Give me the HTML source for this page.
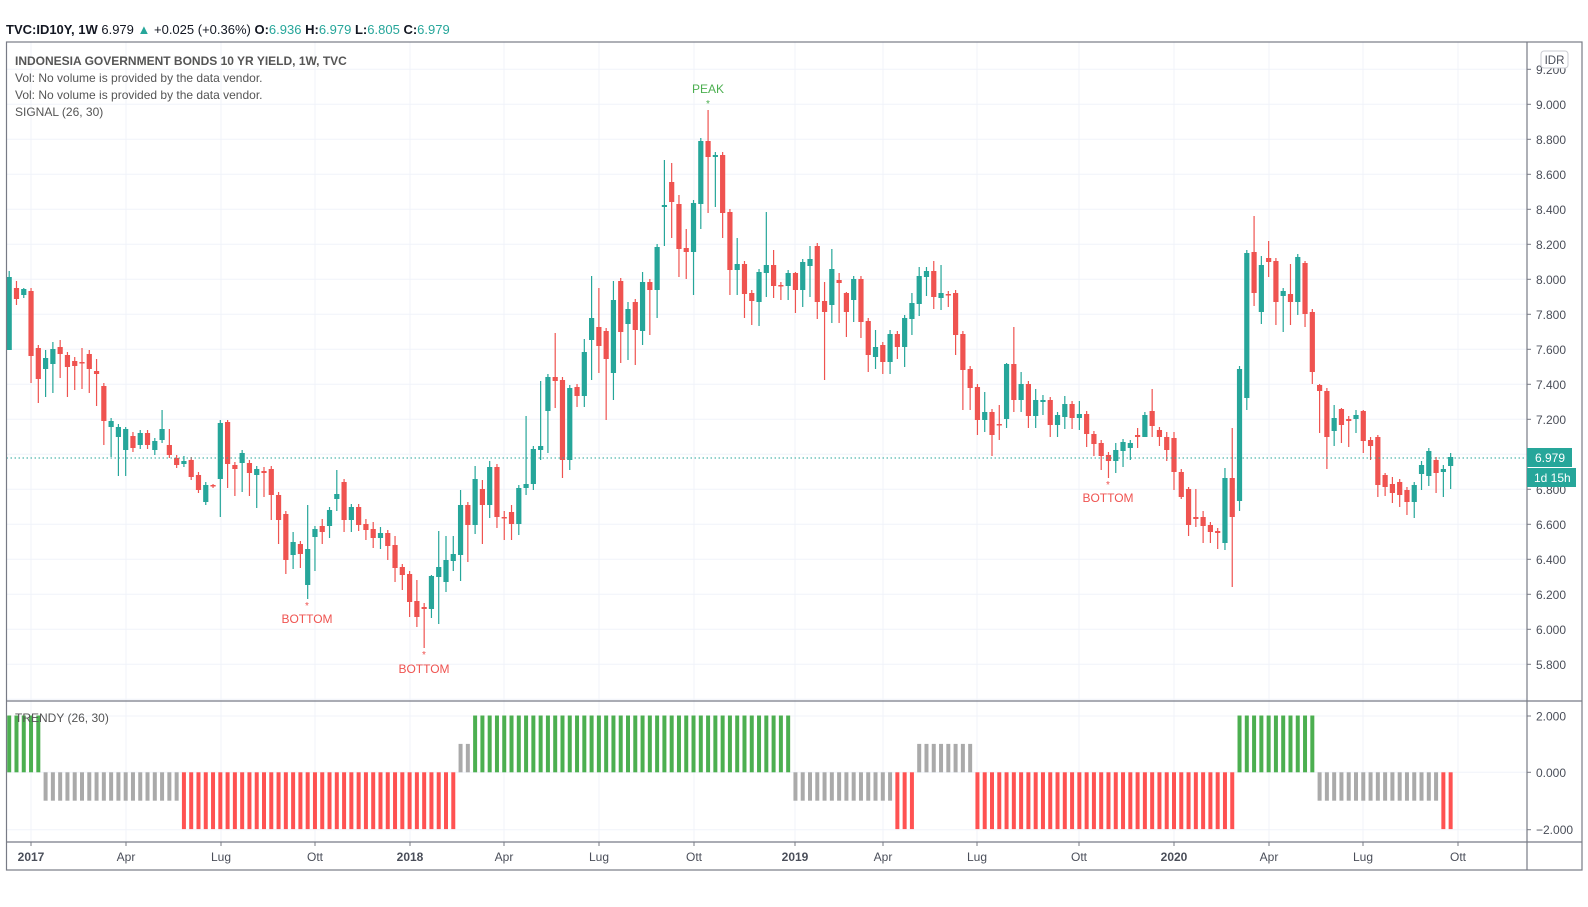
<!DOCTYPE html>
<html><head><meta charset="utf-8"><style>
html,body{margin:0;padding:0;background:#fff;}
svg{display:block;font-family:"Liberation Sans",sans-serif;}
</style></head><body>
<svg id="s" width="1588" height="907" viewBox="0 0 1588 907" xmlns="http://www.w3.org/2000/svg">
<text x="6" y="34" font-size="13" fill="#131722"><tspan font-weight="bold">TVC:ID10Y, 1W</tspan>  6.979 <tspan fill="#26a69a">▲</tspan> +0.025 (+0.36%) <tspan font-weight="bold">O:</tspan><tspan fill="#26a69a">6.936</tspan> <tspan font-weight="bold">H:</tspan><tspan fill="#26a69a">6.979</tspan> <tspan font-weight="bold">L:</tspan><tspan fill="#26a69a">6.805</tspan> <tspan font-weight="bold">C:</tspan><tspan fill="#26a69a">6.979</tspan></text>
<g id="g"></g>
</svg>
<script>
var NS="http://www.w3.org/2000/svg",G=document.getElementById('g');
function el(t,a,txt){var e=document.createElementNS(NS,t);for(var k in a)e.setAttribute(k,a[k]);if(txt!==undefined)e.textContent=txt;G.appendChild(e);return e;}
var L=6.5,R=1527,T=42,D=701,SB=842,B=870,RO=1582;
function py(p){return 454.3+(7-p)*175;}
// grid
var xs=[[31,'2017',1],[126,'Apr'],[221,'Lug'],[315,'Ott'],[410,'2018',1],[504,'Apr'],[599,'Lug'],[694,'Ott'],[795,'2019',1],[883,'Apr'],[977,'Lug'],[1079,'Ott'],[1174,'2020',1],[1269,'Apr'],[1363,'Lug'],[1458,'Ott']];
xs.forEach(function(v){el('line',{x1:v[0],x2:v[0],y1:T,y2:SB,stroke:'#f0f3fa','stroke-width':1});});
for(var p=5.6;p<=9.21;p+=0.2){var y=py(p);if(y>T&&y<D)el('line',{x1:L,x2:R,y1:y,y2:y,stroke:'#f0f3fa'});}
[716,772.3,829.7].forEach(function(y){el('line',{x1:L,x2:R,y1:y,y2:y,stroke:'#f0f3fa'});});
// candles [o,c,h,l]
var d=[[350,277,271,350],[288,299,281,305],[295,289,288,298],[291,356,288,383],[348,379,345,403],[369,358,350,397],[364,349,342,393],[347,354,340,378],[355,367,352,397],[361,366,357,390],[362,363,348,389],[354,369,350,393],[371,374,359,406],[386,421,383,445],[427,421,418,457],[437,427,424,476],[450,429,427,476],[436,448,432,452],[445,433,430,449],[433,445,430,449],[450,441,438,455],[440,429,410,443],[445,455,429,458],[458,465,455,468],[464,461,456,467],[460,477,457,480],[475,490,472,493],[502,485,482,505],[485,486,484,488],[479,423,420,517],[422,464,420,488],[465,469,462,496],[463,453,450,492],[463,473,460,496],[475,469,466,508],
[471,473,467,497],[469,495,466,520],[495,520,492,544],[514,560,511,574],[555,542,532,569],[544,554,541,568],[585,549,505,599],[537,529,526,571],[526,532,519,544],[526,510,507,538],[499,494,470,511],[482,520,479,532],[520,507,504,532],[507,525,504,531],[524,530,519,540],[529,538,522,548],[538,533,527,549],[533,546,530,560],[545,568,536,582],[567,575,564,590],[574,602,571,617],[601,617,580,627],[607,609,603,648],[609,576,575,618],[577,567,531,624],[582,560,536,592],[561,554,536,571],[555,505,490,581],[505,525,502,562],[525,479,466,534],[489,505,480,544],[505,467,461,518],[467,517,464,528],[517,518,511,540],
[512,524,505,540],[524,488,485,535],[488,484,416,495],[484,449,446,490],[450,446,381,460],[411,377,374,453],[377,381,333,408],[380,460,377,478],[460,388,385,470],[387,396,384,407],[396,352,339,407],[340,318,276,380],[327,346,288,373],[331,359,328,420],[373,300,281,400],[281,332,278,363],[324,309,302,360],[302,330,299,365],[331,282,272,345],[282,290,279,335],[290,247,244,318],[207,205,160,246],[182,202,163,238],[204,249,195,277],[248,252,229,279],[252,203,200,295],[204,141,138,229],[141,157,110,213],[157,155,152,207],[155,213,152,238],[212,270,209,295],[270,264,238,295],[264,294,261,318],[293,301,290,325],[302,272,269,326],
[273,265,212,297],[265,286,250,298],[285,286,282,300],[286,273,270,300],[273,290,272,313],[290,262,259,307],[266,259,246,297],[246,302,243,319],[301,312,282,380],[305,269,249,323],[280,283,273,323],[293,312,292,337],[300,279,276,322],[279,322,276,338],[321,355,318,372],[357,347,330,369],[345,362,342,374],[362,334,330,374],[334,347,331,359],[347,318,315,367],[319,303,293,335],[304,276,267,316],[277,271,267,296],[271,297,261,309],[298,293,265,310],[294,295,291,307],[293,335,290,355],[334,370,331,410],[369,388,366,410],[387,420,384,435],[420,412,392,432],[412,435,409,456],[424,425,405,440],
[419,364,363,428],[364,400,327,412],[400,384,372,412],[384,416,381,428],[416,400,389,428],[402,400,395,415],[400,425,397,437],[425,415,412,437],[417,404,396,429],[404,418,401,429],[418,414,401,430],[414,434,411,447],[434,444,431,456],[443,456,440,470],[455,461,452,478],[461,450,443,473],[451,442,439,467],[448,443,440,460],[435,437,428,448],[437,415,412,437],[411,426,389,437],[430,437,427,446],[437,450,432,461],[438,472,432,490],[472,497,469,499],[489,525,487,536],[517,519,489,527],[517,526,511,543],[525,532,522,543],[531,533,528,549],[543,478,468,550],[478,517,428,587],[501,369,366,511],
[398,253,250,410],[252,293,216,306],[312,265,256,324],[258,262,241,277],[261,302,258,325],[296,291,288,332],[294,302,264,325],[302,257,254,315],[263,314,261,327],[312,372,309,384],[385,391,384,433],[391,437,388,469],[431,418,405,446],[409,425,408,443],[419,421,416,447],[419,415,410,433],[411,441,410,453],[440,446,437,460],[437,485,435,497],[475,487,473,496],[484,493,477,503],[482,495,479,507],[490,502,487,515],[502,485,482,518],[474,465,461,490],[476,451,448,486],[460,473,457,493],[472,469,465,497],[466,457,453,489]];
function cx(i){return 9.2+7.28*i;}
d.forEach(function(c,i){var x=cx(i),up=c[1]<c[0],col=up?'#26a69a':'#ef5350';
var top=Math.min(c[0],c[1]),bot=Math.max(c[0],c[1]);
el('line',{x1:x,x2:x,y1:Math.min(c[2],top),y2:Math.max(c[3],bot),stroke:col,'stroke-width':1.2});
el('rect',{x:x-2.6,y:top,width:5.2,height:Math.max(bot-top,1.5),fill:col});});
// trendy
var seg=[[0,4,2],[5,23,-1],[24,61,-2],[62,63,1],[64,107,2],[108,121,-1],[122,124,-2],[125,132,1],[133,168,-2],[169,179,2],[180,196,-1],[197,198,-2]];
var z=772.3,u=28.4;
seg.forEach(function(s){var col=s[2]==2?'#4caf50':(s[2]==-2?'#ff5252':'#aaaaaa');
for(var i=s[0];i<=s[1];i++){var x=cx(i),h=s[2]*u;el('rect',{x:x-2,y:h>0?z-h:z,width:4,height:Math.abs(h),fill:col});}});
// dotted price line
el('line',{x1:L,x2:R,y1:458,y2:458,stroke:'#26a69a','stroke-dasharray':'1.5 2.5','stroke-width':1});
// frames
el('rect',{x:L,y:T,width:RO-L,height:B-T,fill:'none',stroke:'#787b86','stroke-width':1.2});
el('line',{x1:R,x2:R,y1:T,y2:B,stroke:'#787b86','stroke-width':1.2});
el('line',{x1:L,x2:RO,y1:D,y2:D,stroke:'#787b86','stroke-width':1.2});
el('line',{x1:L,x2:RO,y1:SB,y2:SB,stroke:'#787b86','stroke-width':1.2});
// price labels
for(var k=0;k<=18;k++){var p=5.6+k*0.2,y=py(p);if(y<T+8||y>D-2)continue;
el('line',{x1:R,x2:R+4,y1:y,y2:y,stroke:'#787b86'});
el('text',{x:1536,y:y+4.5,'font-size':12,fill:'#4a4e59'},p.toFixed(3));}
[[716,'2.000'],[772.3,'0.000'],[829.7,'\u22122.000']].forEach(function(v){el('line',{x1:R,x2:R+4,y1:v[0],y2:v[0],stroke:'#787b86'});el('text',{x:1536,y:v[0]+4.5,'font-size':12,fill:'#4a4e59'},v[1]);});
el('rect',{x:1541,y:51,width:27,height:17,rx:3,fill:'#fff',stroke:'#c9cbd1'});
el('text',{x:1554.5,y:64,'font-size':11.5,fill:'#4a4e59','text-anchor':'middle'},'IDR');
el('rect',{x:1527,y:448,width:45,height:19,fill:'#26a69a'});
el('text',{x:1535,y:462,'font-size':12,fill:'#fff'},'6.979');
el('rect',{x:1527,y:468,width:49,height:19,fill:'#26a69a'});
el('text',{x:1534,y:482,'font-size':12,fill:'#fff'},'1d 15h');
// x labels
xs.forEach(function(v){el('line',{x1:v[0],x2:v[0],y1:SB,y2:SB+4,stroke:'#787b86'});
el('text',{x:v[0],y:861,'font-size':12,fill:'#4a4e59','text-anchor':'middle','font-weight':v[2]?'bold':'normal'},v[1]);});
// legends
el('text',{x:15,y:65,'font-size':12,fill:'#555','font-weight':'bold'},'INDONESIA GOVERNMENT BONDS 10 YR YIELD, 1W, TVC');
el('text',{x:15,y:82,'font-size':12,fill:'#555'},'Vol: No volume is provided by the data vendor.');
el('text',{x:15,y:99,'font-size':12,fill:'#555'},'Vol: No volume is provided by the data vendor.');
el('text',{x:15,y:116,'font-size':12,fill:'#555'},'SIGNAL (26, 30)');
el('text',{x:15,y:722,'font-size':12,fill:'#555'},'TRENDY (26, 30)');
// annotations
function ann(x,sy,ty,t,col){el('text',{x:x,y:sy,'font-size':10,fill:col,'text-anchor':'middle'},'*');el('text',{x:x,y:ty,'font-size':12,fill:col,'text-anchor':'middle'},t);}
ann(708,107,93,'PEAK','#4caf50');
ann(307,609,623,'BOTTOM','#ef5350');
ann(424,658,673,'BOTTOM','#ef5350');
ann(1108,488,502,'BOTTOM','#ef5350');
</script>
</body></html>
